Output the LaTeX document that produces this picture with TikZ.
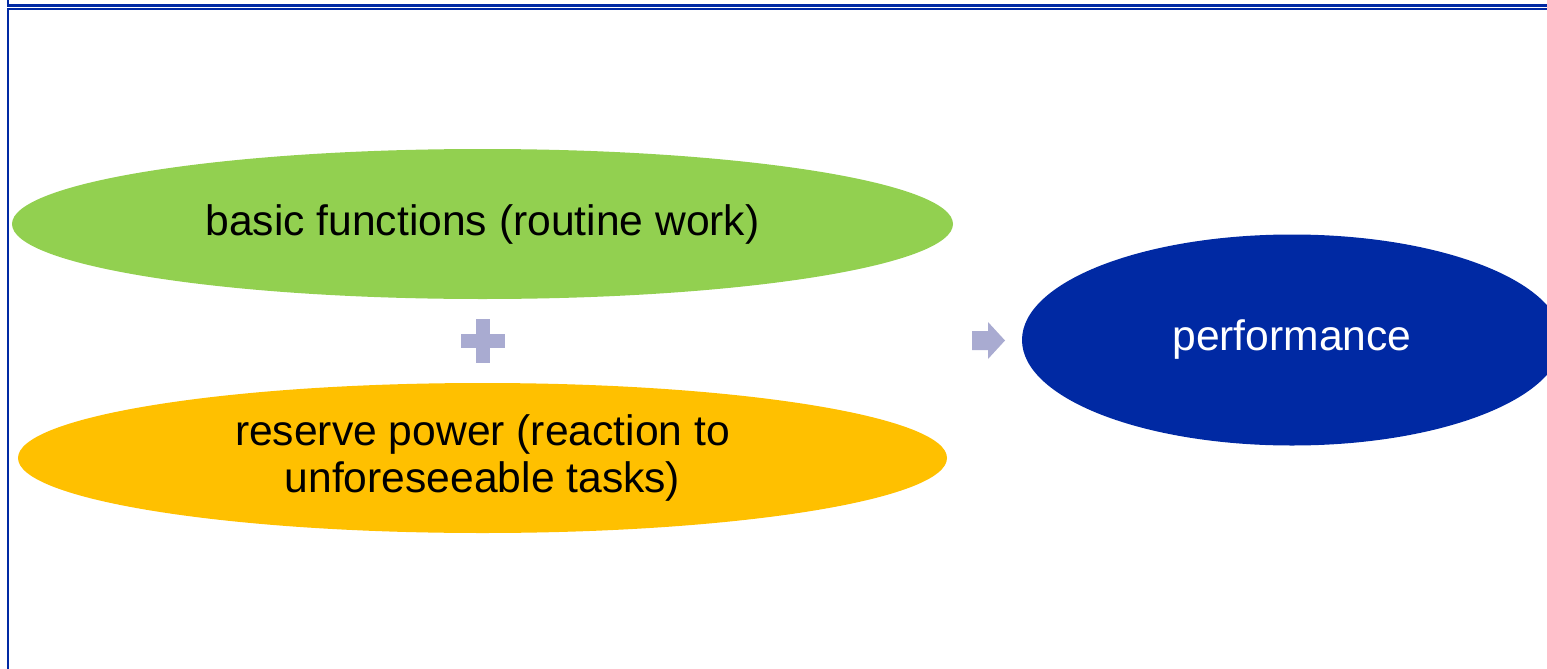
\documentclass[tikz,border=0pt]{standalone}
\usepackage{fontspec}
\setmainfont{Liberation Sans}
\usetikzlibrary{shapes.geometric}
\definecolor{frameblue}{HTML}{0029A3}
\definecolor{perfblue}{HTML}{0029A3}
\definecolor{lgreen}{HTML}{92D050}
\definecolor{lorange}{HTML}{FFC000}
\definecolor{lav}{HTML}{A9ABD1}
\tikzset{
  oval/.style={ellipse, inner sep=0pt, font=\fontsize{21.3}{23.5}\selectfont, align=center},
  frameline/.style={draw=frameblue, line width=1.3pt},
}
\begin{document}
\begin{tikzpicture}[x=0.5pt,y=-0.5pt]
\useasboundingbox (0,0) rectangle (1547,669);
\begin{scope}
\clip (0,0) rectangle (1547,669);
% frames
\draw[frameline] (8,-20) -- (8,5.5) -- (1560,5.5);
\draw[frameline] (8,690) -- (8,9) -- (1560,9);
% ellipses
\node[oval, fill=lgreen, minimum width=470.5pt, minimum height=75pt] (basic) at (482.5,224) {\raisebox{-1.5pt}{basic functions (routine work)}};
\node[oval, fill=lorange, minimum width=464.5pt, minimum height=75pt] (reserve) at (482.5,458) {\raisebox{-1.5pt}{\parbox{300pt}{\centering reserve power (reaction to\\unforeseeable tasks)}}};
\node[oval, fill=perfblue, text=white, minimum width=270pt, minimum height=105.5pt] (perf) at (1292,340) {\raisebox{-1.5pt}{performance}};
% plus
\coordinate (plus) at (482.5,341);
\fill[lav] ([xshift=-3.5pt,yshift=11pt]plus) rectangle ([xshift=3.5pt,yshift=-11pt]plus);
\fill[lav] ([xshift=-11pt,yshift=3.5pt]plus) rectangle ([xshift=11pt,yshift=-3.5pt]plus);
% arrow
\coordinate (arr) at (988.5,340.5);
\fill[lav] (972,331) -- (988,331) -- (988,322) -- (1005,340.5) -- (988,359) -- (988,350) -- (972,350) -- cycle;
\end{scope}
\end{tikzpicture}
\end{document}
